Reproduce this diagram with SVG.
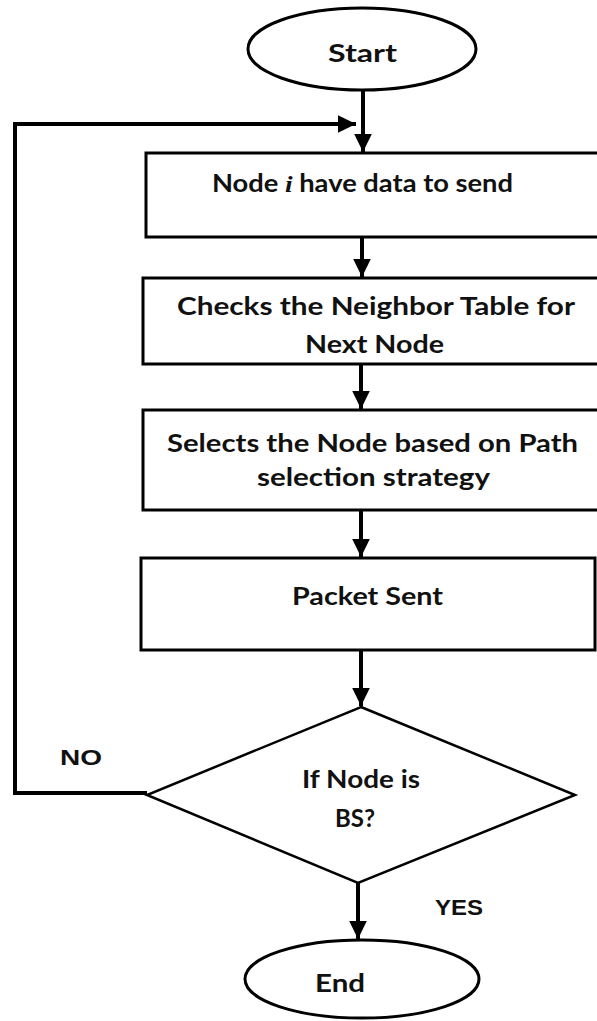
<svg xmlns="http://www.w3.org/2000/svg" width="597" height="1021" viewBox="0 0 597 1021">
  <style>
    .shape { fill: #ffffff; stroke: #000000; stroke-width: 3; }
    .diamond { fill: #ffffff; stroke: #000000; stroke-width: 2.5; stroke-linejoin: miter; }
    .wire { fill: none; stroke: #000000; stroke-width: 4; }
    .label { font-family: Lato, "Open Sans", sans-serif; font-weight: bold; font-size: 24px; fill: #111111; }
    .tag { font-family: "Liberation Sans", Arial, sans-serif; font-weight: bold; font-size: 22px; fill: #111111; }
    .var { font-family: "Liberation Serif", "Times New Roman", serif; font-style: italic; font-weight: bold; }
  </style>
  <defs>
    <marker id="arrow" markerWidth="5" markerHeight="5" refX="4.5" refY="2.2" orient="auto" markerUnits="strokeWidth">
      <path d="M0,0 L4.5,2.2 L0,4.4 Z" fill="#000000"/>
    </marker>
  </defs>
  <rect width="597" height="1021" fill="#ffffff"/>

  <!-- connectors -->
  <g id="connectors">
    <line class="wire" x1="363" y1="90" x2="363" y2="152" marker-end="url(#arrow)"/>
    <polyline class="wire" points="147,793 15,793 15,124 356,124" marker-end="url(#arrow)"/>
    <line class="wire" x1="362" y1="238" x2="362" y2="277" marker-end="url(#arrow)"/>
    <line class="wire" x1="361" y1="365" x2="361" y2="409" marker-end="url(#arrow)"/>
    <line class="wire" x1="361" y1="511" x2="361" y2="557" marker-end="url(#arrow)"/>
    <line class="wire" x1="361" y1="651" x2="361" y2="706" marker-end="url(#arrow)"/>
    <line class="wire" x1="358" y1="883" x2="358" y2="939" marker-end="url(#arrow)"/>
    <text class="tag" x="60" y="765" textLength="42" lengthAdjust="spacingAndGlyphs">NO</text>
    <text class="tag" x="435" y="915" textLength="48" lengthAdjust="spacingAndGlyphs">YES</text>
  </g>

  <g id="start">
    <ellipse class="shape" cx="362" cy="49" rx="114" ry="41"/>
    <text class="label" x="328" y="62" textLength="69" lengthAdjust="spacingAndGlyphs">Start</text>
  </g>

  <g id="node-has-data">
    <rect class="shape" x="146" y="153" width="460" height="84"/>
    <text class="label" x="212" y="192" textLength="301" lengthAdjust="spacingAndGlyphs">Node <tspan class="var">i</tspan> have data to send</text>
  </g>

  <g id="check-neighbors">
    <rect class="shape" x="143" y="278" width="460" height="86"/>
    <text class="label" x="177" y="315" textLength="398" lengthAdjust="spacingAndGlyphs">Checks the Neighbor Table for</text>
    <text class="label" x="305" y="353" textLength="139" lengthAdjust="spacingAndGlyphs">Next Node</text>
  </g>

  <g id="select-node">
    <rect class="shape" x="143" y="410" width="460" height="100"/>
    <text class="label" x="167" y="452" textLength="411" lengthAdjust="spacingAndGlyphs">Selects the Node based on Path</text>
    <text class="label" x="257" y="486" textLength="233" lengthAdjust="spacingAndGlyphs">selection strategy</text>
  </g>

  <g id="packet-sent">
    <rect class="shape" x="141" y="558" width="454" height="92"/>
    <text class="label" x="292" y="605" textLength="151" lengthAdjust="spacingAndGlyphs">Packet Sent</text>
  </g>

  <g id="is-bs">
    <polygon class="diamond" points="361,707 575,795 358,883 147,795"/>
    <text class="label" x="302" y="788" textLength="118" lengthAdjust="spacingAndGlyphs">If Node is</text>
    <text class="label" x="355" y="827" text-anchor="middle">BS?</text>
  </g>

  <g id="end">
    <ellipse class="shape" cx="362" cy="979" rx="117" ry="39"/>
    <text class="label" x="315" y="992" textLength="50" lengthAdjust="spacingAndGlyphs">End</text>
  </g>
</svg>
